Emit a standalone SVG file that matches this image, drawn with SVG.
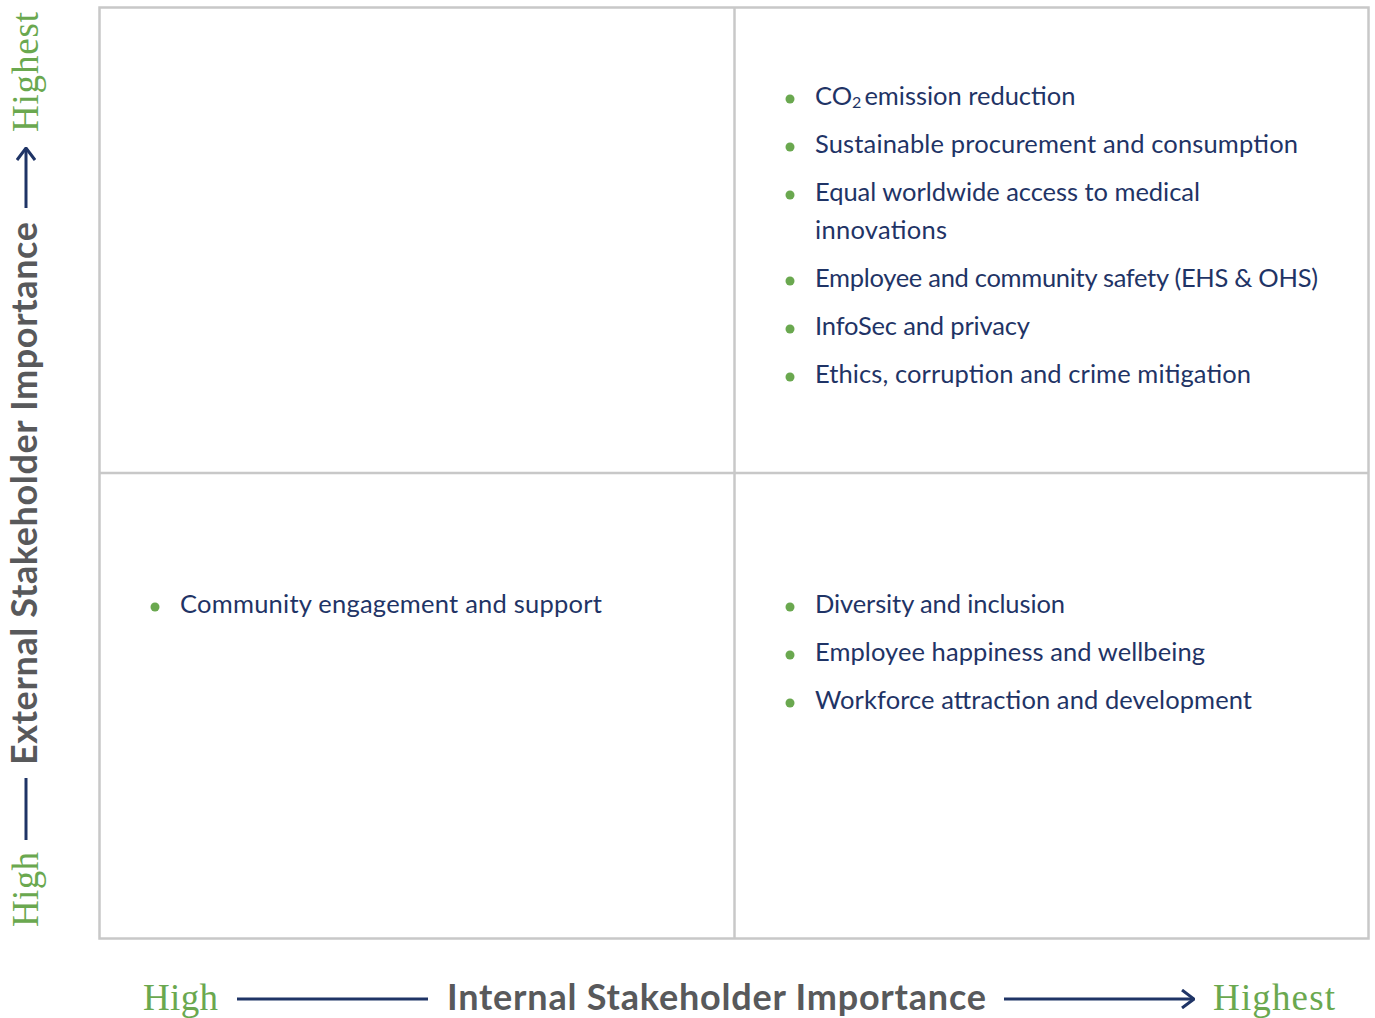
<svg xmlns="http://www.w3.org/2000/svg" width="1375" height="1018" viewBox="0 0 1375 1018">
  <defs>
    <style>
      .grid { fill: none; stroke: #c8c8c8; stroke-width: 2.5; }
      .item { font-family: Lato, "Open Sans", sans-serif; font-size: 25.5px; fill: #1f3466; }
      .dot { fill: #6aa84f; }
      .axis { font-family: Lato, "Open Sans", sans-serif; font-weight: bold; font-size: 36px; fill: #58595b; }
      .level { font-family: "Liberation Serif", "DejaVu Serif", serif; font-size: 37px; fill: #6aa84f; }
      .axisline { stroke: #1f3466; stroke-width: 3; fill: none; }
    </style>
    <marker id="open-arrow" viewBox="0 0 14 20" refX="13" refY="10" markerWidth="14" markerHeight="20" markerUnits="userSpaceOnUse" orient="auto">
      <path d="M1,1 L13,10 L1,19" fill="none" stroke="#1f3466" stroke-width="3"/>
    </marker>
  </defs>

  <rect width="1375" height="1018" fill="#ffffff"/>

  <!-- quadrant grid -->
  <g id="grid">
    <rect class="grid" x="99.5" y="7.5" width="1269" height="931"/>
    <line class="grid" x1="734.5" y1="7.5" x2="734.5" y2="938.5"/>
    <line class="grid" x1="99.5" y1="473" x2="1368.5" y2="473"/>
  </g>

  <!-- top right quadrant -->
  <g id="quadrant-top-right">
    <circle class="dot" cx="790" cy="99" r="4.5"/>
    <text class="item" x="815" y="105">CO<tspan font-size="16" dy="3">2</tspan><tspan dy="-3" dx="3" textLength="211">emission reduction</tspan></text>
    <circle class="dot" cx="790" cy="147" r="4.5"/>
    <text class="item" x="815" y="153" textLength="483">Sustainable procurement and consumption</text>
    <circle class="dot" cx="790" cy="195" r="4.5"/>
    <text class="item" x="815" y="201" textLength="385">Equal worldwide access to medical</text>
    <text class="item" x="815" y="239" textLength="132">innovations</text>
    <circle class="dot" cx="790" cy="281" r="4.5"/>
    <text class="item" x="815" y="287" textLength="503">Employee and community safety (EHS &amp; OHS)</text>
    <circle class="dot" cx="790" cy="329" r="4.5"/>
    <text class="item" x="815" y="335" textLength="215">InfoSec and privacy</text>
    <circle class="dot" cx="790" cy="377" r="4.5"/>
    <text class="item" x="815" y="383" textLength="436">Ethics, corruption and crime mitigation</text>
  </g>

  <!-- bottom left quadrant -->
  <g id="quadrant-bottom-left">
    <circle class="dot" cx="155" cy="607" r="4.5"/>
    <text class="item" x="180" y="613" textLength="422">Community engagement and support</text>
  </g>

  <!-- bottom right quadrant -->
  <g id="quadrant-bottom-right">
    <circle class="dot" cx="790" cy="607" r="4.5"/>
    <text class="item" x="815" y="613" textLength="250">Diversity and inclusion</text>
    <circle class="dot" cx="790" cy="655" r="4.5"/>
    <text class="item" x="815" y="661" textLength="390">Employee happiness and wellbeing</text>
    <circle class="dot" cx="790" cy="703" r="4.5"/>
    <text class="item" x="815" y="709" textLength="437">Workforce attraction and development</text>
  </g>

  <!-- horizontal axis -->
  <g id="x-axis">
    <text class="level" x="143" y="1010" textLength="75">High</text>
    <text class="axis" x="447" y="1010" textLength="539">Internal Stakeholder Importance</text>
    <text class="level" x="1213" y="1010" textLength="122">Highest</text>
  </g>

  <!-- vertical axis -->
  <g id="y-axis">
    <text class="level" transform="translate(38,927) rotate(-90)" textLength="75">High</text>
    <text class="axis" transform="translate(37,765) rotate(-90)" textLength="543">External Stakeholder Importance</text>
    <text class="level" transform="translate(38,132) rotate(-90)" textLength="120">Highest</text>
  </g>

  <!-- axis connectors -->
  <g id="connectors">
    <line class="axisline" x1="237" y1="999" x2="428" y2="999"/>
    <line class="axisline" x1="1004" y1="999" x2="1194" y2="999" marker-end="url(#open-arrow)"/>
    <line class="axisline" x1="26" y1="840" x2="26" y2="778"/>
    <line class="axisline" x1="26" y1="208" x2="26" y2="148" marker-end="url(#open-arrow)"/>
  </g>
</svg>
